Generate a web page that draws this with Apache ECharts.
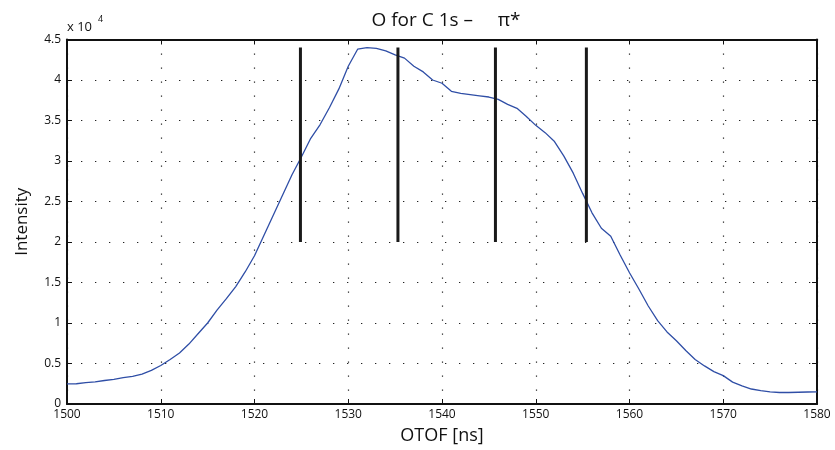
<!DOCTYPE html>
<html>
<head>
<meta charset="utf-8">
<script src="https://cdn.jsdelivr.net/npm/echarts@6/dist/echarts.min.js"></script>
<style>
  html, body { margin: 0; padding: 0; background: #fff; }
  #chart { width: 835px; height: 450px; }
</style>
</head>
<body>
<div id="chart"></div>
<script>
// OTOF sample times (ns)
var otof = [
  1500, 1501, 1502, 1503, 1504, 1505, 1506, 1507, 1508, 1509,
  1510, 1511, 1512, 1513, 1514, 1515, 1516, 1517, 1518, 1519,
  1520, 1521, 1522, 1523, 1524, 1525, 1526, 1527, 1528, 1529,
  1530, 1531, 1532, 1533, 1534, 1535, 1536, 1537, 1538, 1539,
  1540, 1541, 1542, 1543, 1544, 1545, 1546, 1547, 1548, 1549,
  1550, 1551, 1552, 1553, 1554, 1555, 1556, 1557, 1558, 1559,
  1560, 1561, 1562, 1563, 1564, 1565, 1566, 1567, 1568, 1569,
  1570, 1571, 1572, 1573, 1574, 1575, 1576, 1577, 1578, 1579,
  1580
];
// measured intensity
var intensity = [
  2480, 2500, 2650, 2720, 2900, 3050, 3250, 3400, 3700, 4150,
  4750, 5500, 6300, 7400, 8700, 10000, 11600, 13000, 14500, 16300,
  18300, 20800, 23300, 25800, 28300, 30500, 32800, 34500, 36600, 38900,
  41700, 43800, 44000, 43900, 43600, 43100, 42700, 41700, 41000, 40000,
  39600, 38600, 38350, 38200, 38050, 37900, 37600, 37000, 36500, 35500,
  34400, 33500, 32400, 30600, 28500, 26000, 23600, 21700, 20700, 18400,
  16200, 14200, 12100, 10300, 8900, 7800, 6600, 5500, 4700, 4000,
  3500, 2700, 2250, 1850, 1650, 1500, 1420, 1420, 1450, 1480,
  1500
];
// vertical marker lines
var markerTimes = [1524.9, 1535.3, 1545.7, 1555.4];
var markerLow = 20000;
var markerHigh = 44000;

var xTicks = { min: 1500, max: 1580, interval: 10 };
var yTicks = { min: 0, max: 45000, interval: 5000 };

var font = 'Open Sans';
var chart = echarts.init(document.getElementById('chart'));

var curve = otof.map(function (t, i) { return [t, intensity[i]]; });

var series = [{
  type: 'line',
  data: curve,
  showSymbol: false,
  lineStyle: { color: '#2f4ea6', width: 1.3 },
  z: 3
}];
markerTimes.forEach(function (t) {
  series.push({
    type: 'line',
    data: [[t, markerLow], [t, markerHigh]],
    showSymbol: false,
    lineStyle: { color: '#1a1a1a', width: 3 },
    z: 4
  });
});

var dotted = { show: true, lineStyle: { color: '#222', width: 1.2, type: [1.3, 12.7] } };

var option = {
  animation: false,
  textStyle: { fontFamily: font },
  title: {
    text: 'O for C 1s \u2013     \u03c0*',
    left: 441, top: 6, textAlign: 'center',
    textStyle: { fontFamily: font, fontSize: 19, fontWeight: 'normal', color: '#111' }
  },
  grid: { left: 67, right: 18, top: 39.5, bottom: 44.5 },
  graphic: [{
    type: 'text', left: 67, top: 21,
    style: { text: 'x 10', fontFamily: font, fontSize: 13, fill: '#111' }
  }, {
    type: 'text', left: 98, top: 15,
    style: { text: '4', fontFamily: font, fontSize: 9, fill: '#111' }
  }],
  xAxis: [{
    type: 'value', min: xTicks.min, max: xTicks.max, interval: xTicks.interval,
    name: 'OTOF [ns]', nameLocation: 'middle', nameGap: 23,
    nameTextStyle: { fontFamily: font, fontSize: 18, color: '#111' },
    axisLine: { show: true, onZero: false, lineStyle: { color: '#111', width: 2 } },
    axisTick: { show: true, inside: true, length: 5, lineStyle: { color: '#111' } },
    axisLabel: {
      fontFamily: font, fontSize: 12, color: '#111', margin: 5,
      formatter: function (v) { return String(v); }
    },
    splitLine: dotted
  }, {
    type: 'value', position: 'top', min: xTicks.min, max: xTicks.max, interval: xTicks.interval,
    axisLine: { show: true, onZero: false, lineStyle: { color: '#111', width: 2 } },
    axisTick: { show: true, inside: true, length: 5, lineStyle: { color: '#111' } },
    axisLabel: { show: false },
    splitLine: { show: false }
  }],
  yAxis: [{
    type: 'value', min: yTicks.min, max: yTicks.max, interval: yTicks.interval,
    name: 'Intensity', nameLocation: 'middle', nameGap: 36,
    nameTextStyle: { fontFamily: font, fontSize: 17, color: '#111' },
    axisLine: { show: true, onZero: false, lineStyle: { color: '#111', width: 2 } },
    axisTick: { show: true, inside: true, length: 5, lineStyle: { color: '#111' } },
    axisLabel: {
      fontFamily: font, fontSize: 12, color: '#111', margin: 6,
      formatter: function (v) { return String(v / 10000); }
    },
    splitLine: dotted
  }, {
    type: 'value', position: 'right', min: yTicks.min, max: yTicks.max, interval: yTicks.interval,
    axisLine: { show: true, onZero: false, lineStyle: { color: '#111', width: 2 } },
    axisTick: { show: true, inside: true, length: 5, lineStyle: { color: '#111' } },
    axisLabel: { show: false },
    splitLine: { show: false }
  }],
  series: series
};

chart.setOption(option);
window.onresize = chart.resize;
</script>
</body>
</html>
